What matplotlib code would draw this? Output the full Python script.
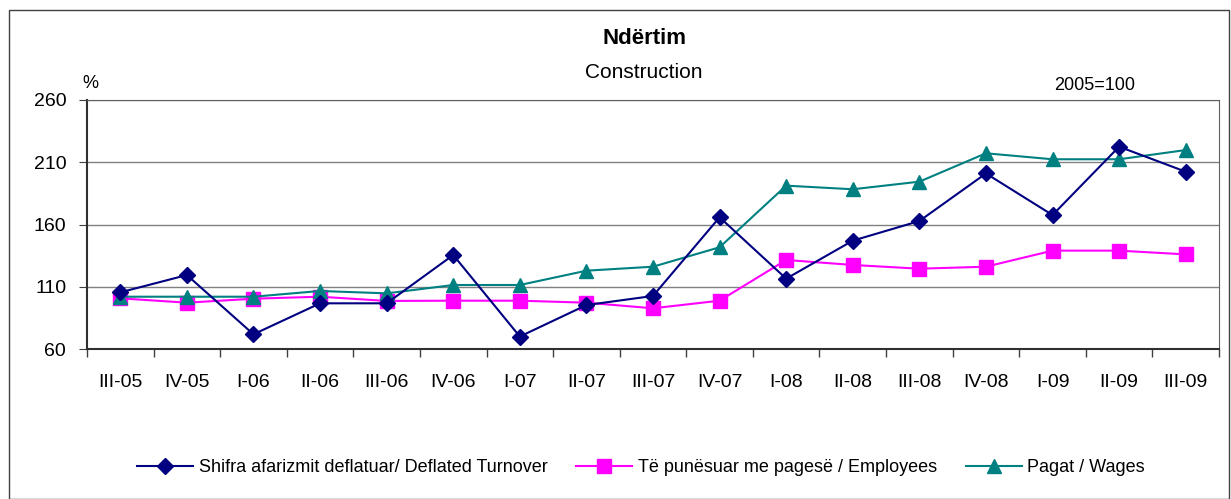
import matplotlib.pyplot as plt
import numpy as np
from matplotlib.patches import Rectangle

plt.rcParams['font.family'] = ['Liberation Sans', 'DejaVu Sans']

quarters = ['III-05', 'IV-05', 'I-06', 'II-06', 'III-06', 'IV-06', 'I-07', 'II-07', 'III-07',
            'IV-07', 'I-08', 'II-08', 'III-08', 'IV-08', 'I-09', 'II-09', 'III-09']
turnover = [105.5, 119.4, 71.8, 96.7, 96.7, 135.5, 70.0, 95.3, 102.6,
            165.8, 116.5, 147.0, 162.8, 201.0, 167.6, 222.5, 202.4]
employees = [100.7, 97.2, 100.4, 102.0, 98.6, 98.8, 98.8, 97.2, 92.7,
             98.8, 131.5, 127.5, 124.5, 126.1, 139.0, 139.0, 136.0]
wages = [102.0, 102.0, 102.0, 106.6, 104.7, 111.4, 111.4, 122.9, 126.1,
         141.7, 191.2, 188.3, 194.4, 217.2, 212.4, 212.4, 219.8]

labels = ['Shifra afarizmit deflatuar/ Deflated Turnover',
          'Të punësuar me pagesë / Employees',
          'Pagat / Wages']

fig = plt.figure(figsize=(12.31, 4.99), dpi=100)
ax = fig.add_axes([87 / 1231, 1 - 349 / 499, (1219 - 87) / 1231, (349 - 100) / 499])

# outer chart border
fig.patches.append(Rectangle((9 / 1231, 0), (1229 - 9) / 1231, 1 - 10 / 499,
                             transform=fig.transFigure, fill=False, edgecolor='#404040', lw=1))

x = np.arange(len(quarters))
ax.plot(x, turnover, color='#000080', marker='D', markersize=8, lw=1.5, label=labels[0], zorder=3)
ax.plot(x, employees, color='#FF00FF', marker='s', markersize=10, lw=1.5, label=labels[1], zorder=2)
ax.plot(x, wages, color='#008080', marker='^', markersize=10, lw=1.5, label=labels[2], zorder=2)

ax.set_ylim(60, 260)
ax.set_yticks([60, 110, 160, 210, 260])
ax.set_xlim(-0.5, len(quarters) - 0.5)
ax.set_xticks(x)
ax.set_xticklabels(quarters)
ax.set_xticks(np.arange(-0.5, len(quarters)), minor=True)
ax.tick_params(axis='x', which='major', length=0, labelsize=14, pad=18)
ax.tick_params(axis='x', which='minor', length=6, width=1, color='#404040')
ax.tick_params(axis='y', length=6, labelsize=14, color='#404040', pad=9)
ax.grid(axis='y', color='#808080', lw=1, zorder=0)

for side in ['top', 'right']:
    ax.spines[side].set_color('#606060')
for side in ['left', 'bottom']:
    ax.spines[side].set_color('#303030')
    ax.spines[side].set_linewidth(1.5)

fig.text(645 / 1231, 1 - 38 / 499, 'Ndërtim', ha='center', va='center', fontsize=16, fontweight='bold')
fig.text(644 / 1231, 1 - 72 / 499, 'Construction', ha='center', va='center', fontsize=15)
fig.text(90 / 1231, 1 - 84 / 499, '%', ha='center', va='center', fontsize=13)
fig.text(1095 / 1231, 1 - 85 / 499, '2005=100', ha='center', va='center', fontsize=13)

fig.legend(loc='center', bbox_to_anchor=(641 / 1231, 1 - 468 / 499), ncol=3, frameon=False,
           fontsize=13, handlelength=3.1, columnspacing=1.6, handletextpad=0.3)

plt.savefig('out.png', dpi=100)
